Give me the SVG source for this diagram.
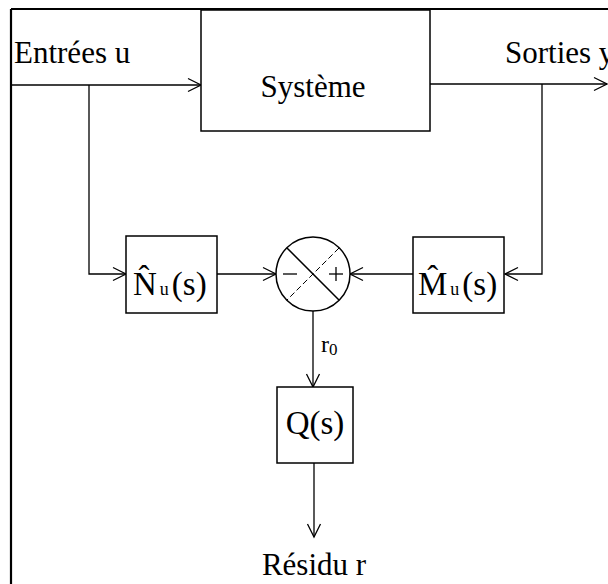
<svg xmlns="http://www.w3.org/2000/svg" width="608" height="584" viewBox="0 0 608 584">
<style>
.ln{stroke:#000;stroke-width:1.3;fill:none}
.box{stroke:#000;stroke-width:1.5;fill:#fff}
.t{font-family:"Liberation Serif","Times New Roman",serif;fill:#000}
</style>
<defs>
<marker id="arr" markerUnits="userSpaceOnUse" markerWidth="16" markerHeight="16" refX="14" refY="8" orient="auto">
<path d="M1,1.5 L14,8 L1,14.5" fill="none" stroke="#000" stroke-width="1.3"/>
</marker>
</defs>
<rect width="608" height="584" fill="#fff"/>
<g id="frame">
<line x1="11" y1="9" x2="608" y2="9" stroke="#000" stroke-width="2.2"/>
<line x1="11" y1="9" x2="11" y2="584" stroke="#000" stroke-width="2.2"/>
</g>
<g id="connectors">
<path class="ln" d="M12,85 H201" marker-end="url(#arr)"/>
<path class="ln" d="M89,85 V274 H126" marker-end="url(#arr)"/>
<path class="ln" d="M430,84 H607" marker-end="url(#arr)"/>
<path class="ln" d="M542,84 V274 H505" marker-end="url(#arr)"/>
<path class="ln" d="M217,274 H276" marker-end="url(#arr)"/>
<path class="ln" d="M413,274 H350" marker-end="url(#arr)"/>
<path class="ln" d="M313,311 V387" marker-end="url(#arr)"/>
<path class="ln" d="M314,463 V537" marker-end="url(#arr)"/>
</g>
<g id="systeme">
<rect class="box" x="201" y="10" width="229" height="121"/>
<text class="t" x="313" y="97" font-size="31" text-anchor="middle">Système</text>
</g>
<g id="entrees">
<text class="t" x="14" y="63" font-size="31">Entrées u</text>
</g>
<g id="sorties">
<text class="t" x="505" y="63" font-size="31">Sorties y</text>
</g>
<g id="Nu">
<rect class="box" x="126" y="236" width="91" height="77"/>
<text class="t" x="133" y="295" font-size="33">N̂<tspan font-size="18" dx="3">u</tspan><tspan dx="3">(s)</tspan></text>
</g>
<g id="Mu">
<rect class="box" x="413" y="237" width="91" height="76"/>
<text class="t" x="418" y="295" font-size="33">M̂<tspan font-size="18" dx="3">u</tspan><tspan dx="3">(s)</tspan></text>
</g>
<g id="sum">
<circle cx="313" cy="274" r="37" fill="#fff" stroke="#000" stroke-width="1.5"/>
<line x1="287" y1="248" x2="339" y2="300" stroke="#000" stroke-width="1.5"/>
<line x1="339" y1="248" x2="287" y2="300" stroke="#000" stroke-width="1" stroke-dasharray="6,3"/>
<line x1="283" y1="274" x2="297" y2="274" stroke="#000" stroke-width="1.3"/>
<line x1="329" y1="274" x2="343" y2="274" stroke="#000" stroke-width="1.3"/>
<line x1="336" y1="267" x2="336" y2="281" stroke="#000" stroke-width="1.3"/>
</g>
<g id="r0">
<text class="t" x="321" y="352" font-size="24">r<tspan font-size="17" dy="3">0</tspan></text>
</g>
<g id="Q">
<rect class="box" x="277" y="387" width="76" height="76"/>
<text class="t" x="315" y="434" font-size="33" text-anchor="middle">Q(s)</text>
</g>
<g id="residu">
<text class="t" x="314" y="575" font-size="31" text-anchor="middle">Résidu r</text>
</g>
</svg>
